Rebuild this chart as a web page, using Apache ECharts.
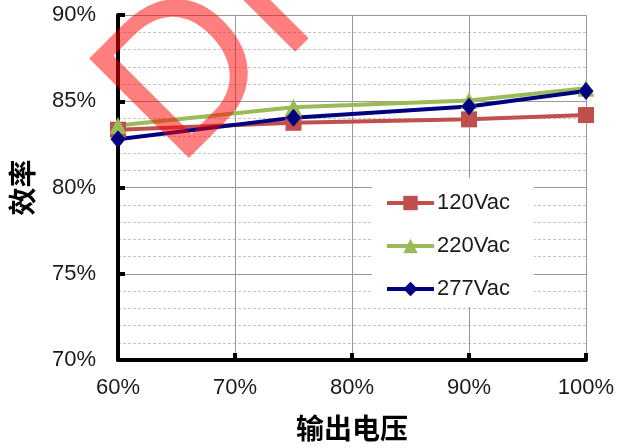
<!DOCTYPE html>
<html><head><meta charset="utf-8">
<script src="https://cdn.jsdelivr.net/npm/echarts@6/dist/echarts.min.js"></script>
<style>html,body{margin:0;padding:0;background:#fff}#c{width:619px;height:448px}</style>
</head><body><div id="c"></div>
<script>
var xValues = [60, 75, 90, 100];
var seriesNames = ['120Vac', '220Vac', '277Vac'];
var s120 = [83.35, 83.75, 83.95, 84.2];
var s220 = [83.6, 84.65, 85.05, 85.75];
var s277 = [82.8, 84.05, 84.7, 85.6];
var xTicks = [60, 70, 80, 90, 100];
var yTicks = [70, 75, 80, 85, 90];
var watermark = 'DIODES';

function pairs(v) { return xValues.map(function (x, i) { return [x, v[i]]; }); }
var font = '"Liberation Sans", Arial, sans-serif';
var chart = echarts.init(document.getElementById('c'), null, { renderer: 'canvas' });
function mk(name, data, color, symbol, size) {
  return {
    name: name, type: 'line', data: pairs(data), symbol: symbol, symbolSize: size,
    lineStyle: { color: color, width: 4 }, itemStyle: { color: color },
    emphasis: { disabled: true }, animation: false, z: 2
  };
}
chart.setOption({
  animation: false,
  grid: { left: 118, right: 33, top: 15, bottom: 88 },
  xAxis: {
    type: 'value', min: xTicks[0], max: xTicks[xTicks.length - 1], interval: 10,
    name: '输出电压', nameLocation: 'middle', nameGap: 54,
    nameTextStyle: { fontFamily: '"Noto Sans CJK SC", sans-serif', fontWeight: 'bold', fontSize: 28, color: '#000' },
    axisLine: { show: true, onZero: false, lineStyle: { color: '#000', width: 4 } },
    axisTick: { show: true, inside: true, length: 7, lineStyle: { color: '#000', width: 4 } },
    axisLabel: { formatter: '{value}%', fontFamily: font, fontSize: 22, color: '#1a1a1a', margin: 17 },
    splitLine: { show: true, lineStyle: { color: '#999', width: 1 } }
  },
  yAxis: {
    type: 'value', min: yTicks[0], max: yTicks[yTicks.length - 1], interval: 5,
    name: '效率', nameLocation: 'middle', nameGap: 82, nameRotate: 90,
    nameTextStyle: { fontFamily: '"Noto Sans CJK SC", sans-serif', fontWeight: 'bold', fontSize: 28, color: '#000' },
    axisLine: { show: true, lineStyle: { color: '#000', width: 4 } },
    axisTick: { show: true, inside: true, length: 7, lineStyle: { color: '#000', width: 4 } },
    axisLabel: { formatter: '{value}%', fontFamily: font, fontSize: 22, color: '#1a1a1a', margin: 22 },
    splitLine: { show: true, lineStyle: { color: '#999', width: 1 } },
    minorTick: { show: false, splitNumber: 5 },
    minorSplitLine: { show: true, lineStyle: { color: '#c4c4c4', width: 1, type: [3, 2] } }
  },
  legend: {
    orient: 'vertical', left: 372, top: 178, padding: [14, 10, 14, 13],
    itemWidth: 47, itemHeight: 18, itemGap: 21, z: 4,
    data: seriesNames,
    lineStyle: { width: 4 },
    textStyle: { fontFamily: font, fontSize: 22, color: '#1a1a1a', lineHeight: 18, padding: [0, 0, 0, -2] }
  },
  graphic: [
    { type: 'rect', left: 372, top: 178, shape: { width: 162, height: 129 }, style: { fill: '#fff' }, z: 3, silent: true },
    { type: 'text', x: 137, y: 130, rotation: Math.PI / 4, z: 10, silent: true,
      style: { text: watermark, fontFamily: font, fontSize: 205, fill: 'rgba(255,0,0,0.5)', textAlign: 'left', textVerticalAlign: 'middle' } }
  ],
  series: [
    mk(seriesNames[0], s120, '#C0504D', 'rect', 16),
    mk(seriesNames[1], s220, '#9BBB59', 'triangle', 17),
    mk(seriesNames[2], s277, '#000080', 'diamond', [15, 18])
  ]
});
</script></body></html>
